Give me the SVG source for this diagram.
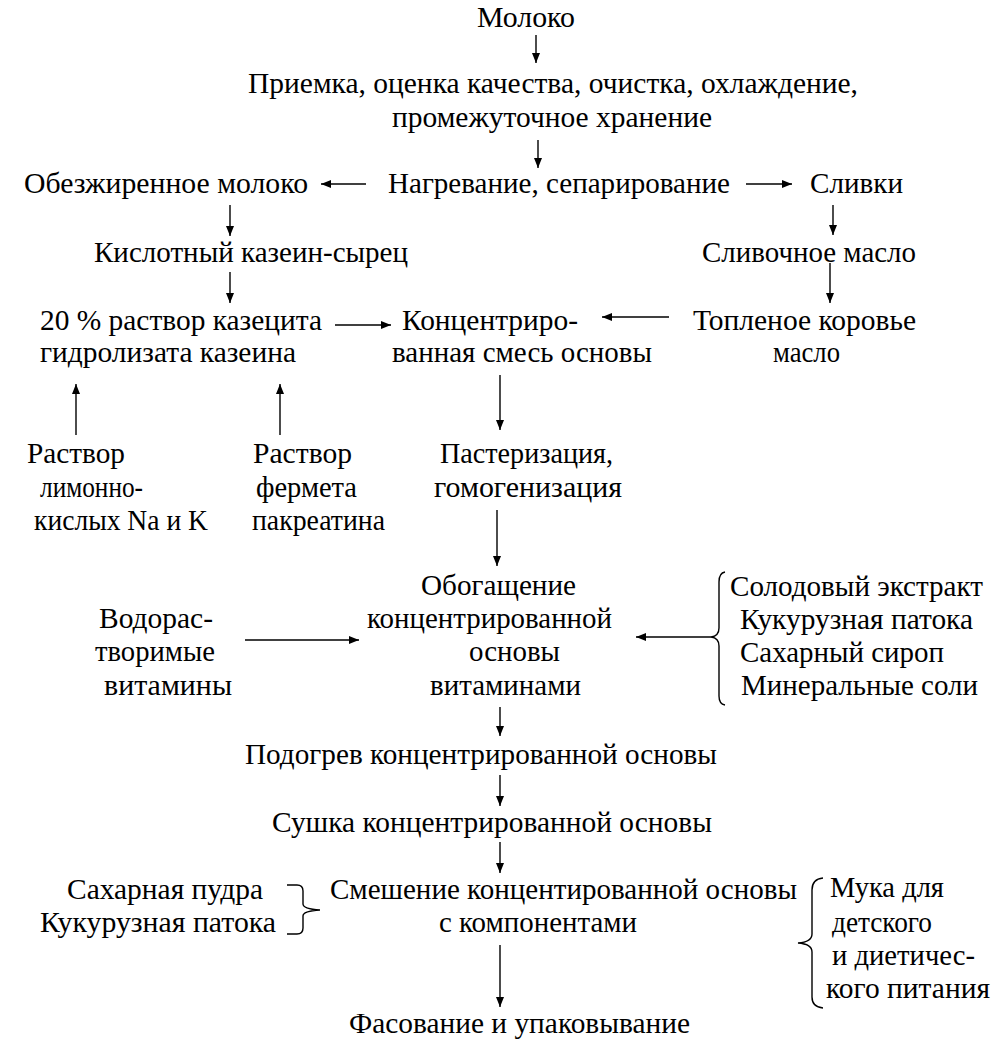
<svg xmlns="http://www.w3.org/2000/svg" width="998" height="1047" viewBox="0 0 998 1047">
<defs>
<marker id="ah" markerUnits="userSpaceOnUse" markerWidth="11" markerHeight="8" refX="10" refY="4" orient="auto">
<path d="M0,0 L10,4 L0,8 z" fill="#000"/>
</marker>
<style>
text{font-family:'Times New Roman','Liberation Serif','Tinos','DejaVu Serif',serif;font-size:29.5px;fill:#000}
.c{stroke:#000;stroke-width:1.4;fill:none}
.a{marker-end:url(#ah)}
.b{stroke:#000;stroke-width:1.4;fill:none}
</style>
</defs>
<rect width="998" height="1047" fill="#fff"/>
<g id="n-moloko"><text x="477" y="27" textLength="98" lengthAdjust="spacingAndGlyphs">Молоко</text></g>
<g id="n-priemka">
<text x="248" y="93" textLength="610" lengthAdjust="spacingAndGlyphs">Приемка, оценка качества, очистка, охлаждение,</text>
<text x="392" y="127" textLength="320" lengthAdjust="spacingAndGlyphs">промежуточное хранение</text>
</g>
<g id="n-obezh"><text x="24" y="193" textLength="284" lengthAdjust="spacingAndGlyphs">Обезжиренное молоко</text></g>
<g id="n-nagrev"><text x="388" y="193" textLength="342" lengthAdjust="spacingAndGlyphs">Нагревание, сепарирование</text></g>
<g id="n-slivki"><text x="810" y="193" textLength="93" lengthAdjust="spacingAndGlyphs">Сливки</text></g>
<g id="n-kislot"><text x="94" y="262" textLength="314" lengthAdjust="spacingAndGlyphs">Кислотный казеин-сырец</text></g>
<g id="n-slivmaslo"><text x="702" y="262" textLength="214" lengthAdjust="spacingAndGlyphs">Сливочное масло</text></g>
<g id="n-rastvor20">
<text x="40" y="330" textLength="282" lengthAdjust="spacingAndGlyphs">20 % раствор казецита</text>
<text x="40" y="362" textLength="256" lengthAdjust="spacingAndGlyphs">гидролизата казеина</text>
</g>
<g id="n-konc">
<text x="402" y="330" textLength="176" lengthAdjust="spacingAndGlyphs">Концентриро-</text>
<text x="392" y="362" textLength="260" lengthAdjust="spacingAndGlyphs">ванная смесь основы</text>
</g>
<g id="n-toplen">
<text x="693" y="330" textLength="223" lengthAdjust="spacingAndGlyphs">Топленое коровье</text>
<text x="773" y="362" textLength="67" lengthAdjust="spacingAndGlyphs">масло</text>
</g>
<g id="n-rastvor-lim">
<text x="27" y="463" textLength="98" lengthAdjust="spacingAndGlyphs">Раствор</text>
<text x="40" y="497" textLength="103" lengthAdjust="spacingAndGlyphs">лимонно-</text>
<text x="34" y="530" textLength="174" lengthAdjust="spacingAndGlyphs">кислых Na и K</text>
</g>
<g id="n-rastvor-ferm">
<text x="253" y="463" textLength="99" lengthAdjust="spacingAndGlyphs">Раствор</text>
<text x="256" y="497" textLength="101" lengthAdjust="spacingAndGlyphs">фермета</text>
<text x="252" y="530" textLength="133" lengthAdjust="spacingAndGlyphs">пакреатина</text>
</g>
<g id="n-paster">
<text x="440" y="463" textLength="173" lengthAdjust="spacingAndGlyphs">Пастеризация,</text>
<text x="434" y="497" textLength="188" lengthAdjust="spacingAndGlyphs">гомогенизация</text>
</g>
<g id="n-obogash">
<text x="421" y="595" textLength="155" lengthAdjust="spacingAndGlyphs">Обогащение</text>
<text x="367" y="628" textLength="245" lengthAdjust="spacingAndGlyphs">концентрированной</text>
<text x="469" y="661" textLength="91" lengthAdjust="spacingAndGlyphs">основы</text>
<text x="430" y="695" textLength="151" lengthAdjust="spacingAndGlyphs">витаминами</text>
</g>
<g id="n-vodoras">
<text x="99" y="628" textLength="114" lengthAdjust="spacingAndGlyphs">Водорас-</text>
<text x="95" y="661" textLength="120" lengthAdjust="spacingAndGlyphs">творимые</text>
<text x="104" y="695" textLength="128" lengthAdjust="spacingAndGlyphs">витамины</text>
</g>
<g id="n-dobavki">
<text x="730" y="596" textLength="253" lengthAdjust="spacingAndGlyphs">Солодовый экстракт</text>
<text x="740" y="629" textLength="233" lengthAdjust="spacingAndGlyphs">Кукурузная патока</text>
<text x="740" y="662" textLength="204" lengthAdjust="spacingAndGlyphs">Сахарный сироп</text>
<text x="741" y="695" textLength="237" lengthAdjust="spacingAndGlyphs">Минеральные соли</text>
</g>
<g id="n-podogrev"><text x="245" y="764" textLength="472" lengthAdjust="spacingAndGlyphs">Подогрев концентрированной основы</text></g>
<g id="n-sushka"><text x="272" y="832" textLength="440" lengthAdjust="spacingAndGlyphs">Сушка концентрированной основы</text></g>
<g id="n-sahar">
<text x="67" y="899" textLength="196" lengthAdjust="spacingAndGlyphs">Сахарная пудра</text>
<text x="40" y="932" textLength="236" lengthAdjust="spacingAndGlyphs">Кукурузная патока</text>
</g>
<g id="n-smeshenie">
<text x="330" y="899" textLength="467" lengthAdjust="spacingAndGlyphs">Смешение концентированной основы</text>
<text x="439" y="932" textLength="198" lengthAdjust="spacingAndGlyphs">с компонентами</text>
</g>
<g id="n-muka">
<text x="830" y="897" textLength="114" lengthAdjust="spacingAndGlyphs">Мука для</text>
<text x="832" y="932" textLength="100" lengthAdjust="spacingAndGlyphs">детского</text>
<text x="832" y="965" textLength="143" lengthAdjust="spacingAndGlyphs">и диетичес-</text>
<text x="826" y="998" textLength="164" lengthAdjust="spacingAndGlyphs">кого питания</text>
</g>
<g id="n-fasovanie"><text x="349" y="1033" textLength="341" lengthAdjust="spacingAndGlyphs">Фасование и упаковывание</text></g>
<g id="connectors">
<line class="c a" x1="536" y1="35" x2="536" y2="63"/>
<line class="c a" x1="538" y1="140" x2="538" y2="168"/>
<line class="c a" x1="366" y1="184" x2="321" y2="184"/>
<line class="c a" x1="746" y1="184" x2="792" y2="184"/>
<line class="c a" x1="230" y1="205" x2="230" y2="236"/>
<line class="c a" x1="833" y1="205" x2="833" y2="235"/>
<line class="c a" x1="230" y1="272" x2="230" y2="303"/>
<line class="c a" x1="830" y1="263" x2="830" y2="303"/>
<line class="c a" x1="335" y1="325" x2="391" y2="325"/>
<line class="c a" x1="669" y1="317" x2="602" y2="317"/>
<line class="c a" x1="76" y1="435" x2="76" y2="384"/>
<line class="c a" x1="280" y1="435" x2="280" y2="384"/>
<line class="c a" x1="500" y1="375" x2="500" y2="430"/>
<line class="c a" x1="497" y1="510" x2="497" y2="566"/>
<line class="c a" x1="245" y1="640" x2="359" y2="640"/>
<line class="c a" x1="711" y1="637" x2="636" y2="637"/>
<line class="c a" x1="500" y1="707" x2="500" y2="736"/>
<line class="c a" x1="500" y1="775" x2="500" y2="806"/>
<line class="c a" x1="500" y1="842" x2="500" y2="873"/>
<line class="c a" x1="500" y1="945" x2="500" y2="1007"/>
<path class="b" d="M725,572 Q719,573 719,582 L719,628 Q719,636 711,637 Q719,638 719,646 L719,696 Q719,704 725,705"/>
<path class="b" d="M287,885 L297,885 Q303,885 303,891 L303,904 Q303,909 320,910 Q303,911 303,916 L303,928 Q303,934 297,934 L287,934"/>
<path class="b" d="M823,878 Q812,879 812,890 L812,934 Q812,942 798,943 Q812,944 812,952 L812,997 Q812,1007 823,1008"/>
</g>
</svg>
